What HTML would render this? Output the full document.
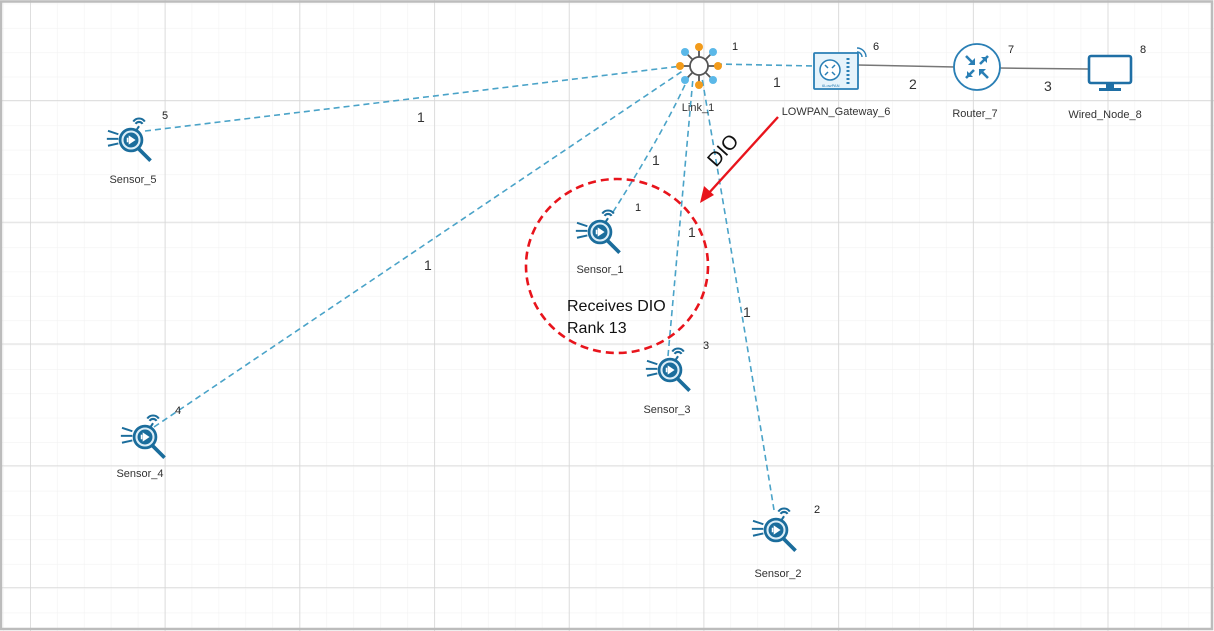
<!DOCTYPE html>
<html><head><meta charset="utf-8"><style>
html,body{margin:0;padding:0;background:#fff}
svg{display:block}
text{font-family:"Liberation Sans",sans-serif}
</style></head><body>
<svg width="1214" height="631" viewBox="0 0 1214 631" xmlns="http://www.w3.org/2000/svg">
<defs>
<pattern id="minor" x="30" y="3.6" width="26.94" height="24.36" patternUnits="userSpaceOnUse">
<path d="M0 0V24.36M0 0H26.94" stroke="#f2f2f2" stroke-width="1.2" fill="none"/>
</pattern>
<pattern id="major" x="30" y="-21.8" width="134.7" height="121.8" patternUnits="userSpaceOnUse">
<path d="M0 0V121.8M0 0H134.7" stroke="#d6d6d6" stroke-width="1.6" fill="none"/>
</pattern>
<g id="sensorb">
<path d="M2 -16 a6 6 0 0 1 10 0" stroke="#1b6d9c" stroke-width="1.8" fill="none"/>
<path d="M4 -14 a3.5 3.5 0 0 1 6 0" stroke="#1b6d9c" stroke-width="1.8" fill="none"/>
<line x1="7" y1="-12" x2="5" y2="-9" stroke="#1b6d9c" stroke-width="1.8"/>
<circle cx="0" cy="0" r="9.5" fill="#dceef8" stroke="#1b6d9c" stroke-width="2.4"/>
<circle cx="0" cy="0" r="6.5" fill="#1b6d9c"/>
<path d="M-2 -4 L4 0 L-2 4 Z" fill="#fff"/>
<line x1="-3" y1="-2" x2="-3" y2="2" stroke="#fff" stroke-width="1.4"/>
<line x1="-11" y1="-5" x2="-20" y2="-8" stroke="#1b6d9c" stroke-width="1.7"/>
<line x1="-11" y1="-1" x2="-21" y2="-1" stroke="#1b6d9c" stroke-width="1.7"/>
<line x1="-11" y1="3" x2="-20" y2="5" stroke="#1b6d9c" stroke-width="1.7"/>
<line x1="6" y1="7" x2="17" y2="18" stroke="#1b6d9c" stroke-width="3.2"/>
</g>
<g id="sensor" transform="scale(1.15)"><use href="#sensorb"/></g>
</defs>
<rect width="1214" height="631" fill="#fff"/>
<rect width="1214" height="631" fill="url(#minor)"/>
<rect width="1214" height="631" fill="url(#major)"/>
<rect x="1" y="1.5" width="1211" height="627.5" fill="none" stroke="#bcbcbc" stroke-width="2.5"/>

<g stroke="#4aa3c8" stroke-width="1.6" stroke-dasharray="6,4" fill="none">
<line x1="145" y1="131" x2="682" y2="66"/>
<line x1="154" y1="427" x2="684" y2="70"/>
<path d="M613 212 Q665 130 689 76"/>
<path d="M668 356 Q682 200 693 78"/>
<path d="M774 510 Q740 300 702 78"/>
<line x1="716" y1="64" x2="814" y2="66"/>
</g>
<g stroke="#777" stroke-width="1.5">
<line x1="857" y1="65" x2="955" y2="67"/>
<line x1="999" y1="68" x2="1088" y2="69"/>
</g>

<g transform="translate(699,66)" stroke="#555" stroke-width="1.8">
<line x1="0" y1="0" x2="0" y2="-18"/><line x1="0" y1="0" x2="0" y2="18"/>
<line x1="0" y1="0" x2="-18" y2="0"/><line x1="0" y1="0" x2="18" y2="0"/>
<line x1="0" y1="0" x2="-13" y2="-13"/><line x1="0" y1="0" x2="13" y2="13"/>
<line x1="0" y1="0" x2="13" y2="-13"/><line x1="0" y1="0" x2="-13" y2="13"/>
<circle r="9" fill="#fff"/>
<g stroke="none">
<circle cx="0" cy="-19" r="4" fill="#f29b1b"/><circle cx="0" cy="19" r="4" fill="#f29b1b"/>
<circle cx="-19" cy="0" r="4" fill="#f29b1b"/><circle cx="19" cy="0" r="4" fill="#f29b1b"/>
<circle cx="-14" cy="-14" r="4" fill="#5bb8e8"/><circle cx="14" cy="14" r="4" fill="#5bb8e8"/>
<circle cx="14" cy="-14" r="4" fill="#5bb8e8"/><circle cx="-14" cy="14" r="4" fill="#5bb8e8"/>
</g>
</g>

<g>
<rect x="814" y="53" width="44" height="36" fill="#e6f3fb" stroke="#2a7fb5" stroke-width="1.8" rx="1"/>
<circle cx="830" cy="70" r="10" fill="#fff" stroke="#2a7fb5" stroke-width="1.5"/>
<path d="M825 65l3 3M835 65l-3 3M825 75l3-3M835 75l-3-3" stroke="#2a7fb5" stroke-width="1.5"/>
<path d="M848 58v26" stroke="#2a7fb5" stroke-width="3" stroke-dasharray="2,2"/>
<text x="822" y="87" font-size="4" fill="#2a7fb5">6LowPAN</text>
<path d="M857 52 a5 5 0 0 1 5 5M857 48 a9 9 0 0 1 9 9" stroke="#2a7fb5" stroke-width="1.4" fill="none"/>
</g>
<g transform="translate(977,67)">
<circle r="23" fill="#fff" stroke="#2a7fb5" stroke-width="1.8"/>
<g stroke="#2a7fb5" stroke-width="2.6">
<line x1="-11" y1="-11" x2="-3" y2="-3"/><line x1="11" y1="-11" x2="3" y2="-3"/>
<line x1="-11" y1="11" x2="-3" y2="3"/><line x1="11" y1="11" x2="3" y2="3"/>
</g>
<g fill="#2a7fb5"><path d="M-2 -2l-7 0 7-7z"/><path d="M4 -10l6 0 0 6z"/><path d="M-10 4l0 6 6 0z"/><path d="M2 2l7 0-7 7z"/></g>
</g>
<g>
<rect x="1089" y="56" width="42" height="27" rx="2" fill="#fff" stroke="#1f6fa5" stroke-width="2.6"/>
<rect x="1106" y="83" width="8" height="5" fill="#1f6fa5"/>
<rect x="1099" y="88" width="22" height="3" fill="#1f6fa5"/>
</g>

<use href="#sensor" x="131" y="140"/>
<use href="#sensor" x="600" y="232"/>
<use href="#sensor" x="776" y="530"/>
<use href="#sensor" x="670" y="370"/>
<use href="#sensor" x="145" y="437"/>

<g font-size="11" fill="#333" text-anchor="middle">
<text x="698" y="111">Link_1</text>
<text x="836" y="115">LOWPAN_Gateway_6</text>
<text x="975" y="117">Router_7</text>
<text x="1105" y="118">Wired_Node_8</text>
<text x="133" y="183">Sensor_5</text>
<text x="600" y="273">Sensor_1</text>
<text x="667" y="413">Sensor_3</text>
<text x="140" y="477">Sensor_4</text>
<text x="778" y="577">Sensor_2</text>
</g>
<g font-size="11" fill="#222">
<text x="732" y="50">1</text><text x="873" y="50">6</text><text x="1008" y="53">7</text><text x="1140" y="53">8</text>
<text x="162" y="119">5</text><text x="635" y="211">1</text><text x="703" y="349">3</text><text x="175" y="414">4</text><text x="814" y="513">2</text>
</g>
<g font-size="14" fill="#333">
<text x="417" y="122">1</text><text x="424" y="270">1</text><text x="652" y="165">1</text><text x="688" y="237">1</text>
<text x="743" y="317">1</text><text x="773" y="87">1</text><text x="909" y="89">2</text><text x="1044" y="91">3</text>
</g>

<ellipse cx="617" cy="266" rx="91" ry="87" fill="none" stroke="#e8141c" stroke-width="2.6" stroke-dasharray="8,5"/>
<line x1="778" y1="117" x2="708" y2="194" stroke="#e8141c" stroke-width="2.4"/>
<path d="M700 203 L704 186 L714 195 Z" fill="#e8141c"/>
<text x="0" y="0" font-size="20" fill="#111" transform="translate(716,168) rotate(-48)">DIO</text>
<text x="567" y="311" font-size="16" fill="#111">Receives DIO</text>
<text x="567" y="333" font-size="16" fill="#111">Rank 13</text>
</svg>
</body></html>
